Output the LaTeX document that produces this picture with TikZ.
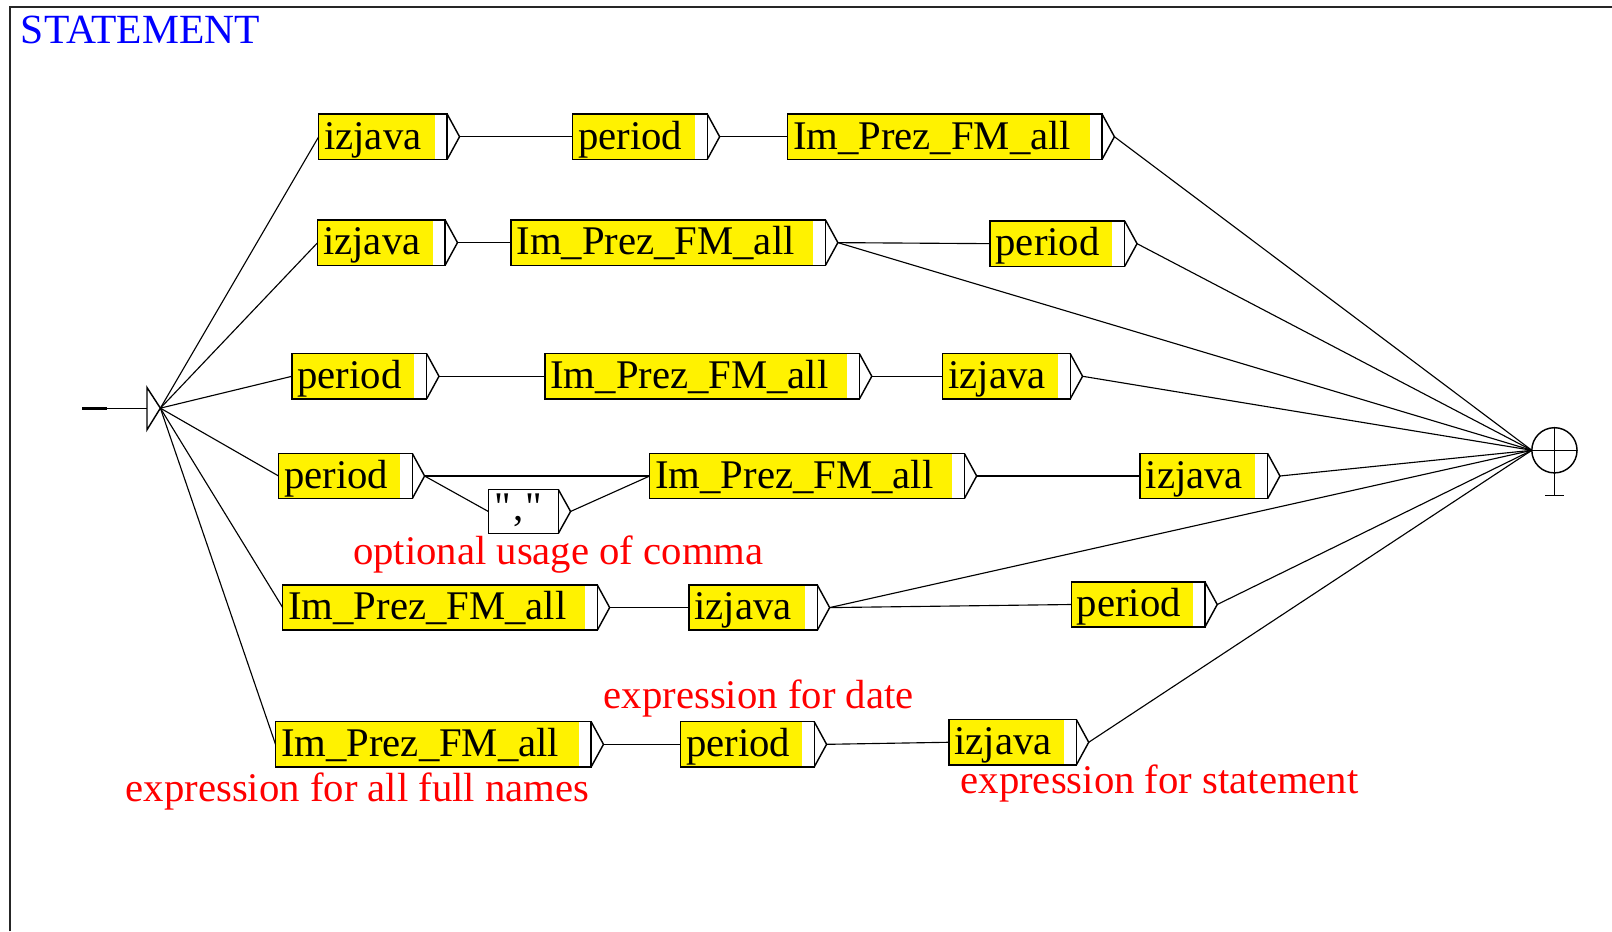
\documentclass[tikz,border=0pt]{standalone}
\usepackage{fontspec}
\setmainfont{Liberation Serif}
\newfontfamily\qfont{Liberation Serif}
\newcommand{\ubox}[5]{% name, x1, x2, cy, text
  \fill[yellow] (#2,#4-22) rectangle (#3-12,#4+22);
  \draw[boxline] (#2,#4-22) rectangle (#3,#4+22);
  \draw[boxline] (#3,#4-22) -- (#3+12,#4) -- (#3,#4+22);
  \node[lbl, anchor=base west] (#1) at (#2+5,#4+12) {#5};
  \coordinate (#1-in) at (#2,#4);
  \coordinate (#1-out) at (#3+12,#4);
}
\begin{document}
\begin{tikzpicture}[x=0.5pt,y=-0.5pt,
  boxline/.style={line width=0.7pt, black},
  conn/.style={line width=0.55pt, black},
  lbl/.style={inner sep=0pt, font=\fontsize{19.8}{24}\selectfont},
  note/.style={inner sep=0pt, anchor=base west, text=red, font=\fontsize{19.8}{24}\selectfont}]
\useasboundingbox (0,0) rectangle (1568,906);
\fill[white] (0,0) rectangle (1568,906);
\draw[line width=1pt, black!85] (10,906) -- (10,7) -- (1568,7);
\node[anchor=base west, inner sep=0pt, text=blue, font=\fontsize{20.2}{24}\selectfont] (title) at (20,42) {STATEMENT};

% initial state
\coordinate (start) at (80,397);
\coordinate (stubend) at (104,397);
\coordinate (iback) at (143,397);
\coordinate (init) at (156,397);
\draw[line width=1.4pt] (start) -- (stubend);
\draw[conn] (stubend) -- (iback);
\draw[boxline] (143,377) -- (init) -- (143,418) -- cycle;

% final state
\coordinate (fin) at (1490,438);
\draw[boxline] (1512,438) circle[radius=22];
\draw[boxline] (fin) -- (1534,438);
\draw[boxline] (1512,416) -- (1512,482);
\draw[boxline] (1503,482) -- (1521,482);

% row 1
\ubox{ra1}{310}{435}{133}{izjava}
\ubox{ra2}{557}{688}{133}{period}
\ubox{ra3}{766}{1072}{133}{Im\_Prez\_FM\_all}
% row 2
\ubox{rb1}{309}{433}{236}{izjava}
\ubox{rb2}{497}{803}{236}{Im\_Prez\_FM\_all}
\ubox{rb3}{963}{1094}{237}{period}
% row 3
\ubox{rc1}{284}{415}{366}{period}
\ubox{rc2}{530}{836}{366}{Im\_Prez\_FM\_all}
\ubox{rc3}{917}{1041}{366}{izjava}
% row 4
\ubox{rd1}{271}{401}{463}{period}
\ubox{rd3}{632}{938}{463}{Im\_Prez\_FM\_all}
\ubox{rd4}{1109}{1233}{463}{izjava}
\draw[boxline] (475,476) rectangle (543,519);
\draw[boxline] (543,476) -- (555,497.5) -- (543,519);
\node[lbl, anchor=base west] (comma) at (481,506) {\qfont"\kern1pt,\kern1pt"};
\coordinate (comma-in) at (475,497.5);
\coordinate (comma-out) at (555,497.5);
% row 5
\ubox{re1}{275}{581}{591}{Im\_Prez\_FM\_all}
\ubox{re2}{670}{795}{591}{izjava}
\ubox{re3}{1042}{1172}{588}{period}
% row 6
\ubox{rf1}{268}{575}{724}{Im\_Prez\_FM\_all}
\ubox{rf2}{662}{792}{724}{period}
\ubox{rf3}{923}{1047}{722}{izjava}

% connectors
\foreach \n in {ra1,rb1,rc1,rd1,re1,rf1} \draw[conn] (init) -- (\n-in);
\draw[conn] (ra1-out) -- (ra2-in);
\draw[conn] (ra2-out) -- (ra3-in);
\draw[conn] (ra3-out) -- (fin);
\draw[conn] (rb1-out) -- (rb2-in);
\draw[conn] (rb2-out) -- (rb3-in);
\draw[conn] (rb2-out) -- (fin);
\draw[conn] (rb3-out) -- (fin);
\draw[conn] (rc1-out) -- (rc2-in);
\draw[conn] (rc2-out) -- (rc3-in);
\draw[conn] (rc3-out) -- (fin);
\draw[conn] (rd1-out) -- (rd3-in);
\draw[conn] (rd1-out) -- (comma-in);
\draw[conn] (comma-out) -- (rd3-in);
\draw[conn] (rd3-out) -- (rd4-in);
\draw[conn] (rd4-out) -- (fin);
\draw[conn] (re1-out) -- (re2-in);
\draw[conn] (re2-out) -- (re3-in);
\draw[conn] (re2-out) -- (fin);
\draw[conn] (re3-out) -- (fin);
\draw[conn] (rf1-out) -- (rf2-in);
\draw[conn] (rf2-out) -- (rf3-in);
\draw[conn] (rf3-out) -- (fin);

% notes
\node[note] (n1) at (343,549) {optional usage of comma};
\node[note] (n2) at (587,689) {expression for date};
\node[note] (n3) at (122,780) {expression for all full names};
\node[note] (n4) at (934,772) {expression for statement};
\end{tikzpicture}
\end{document}
